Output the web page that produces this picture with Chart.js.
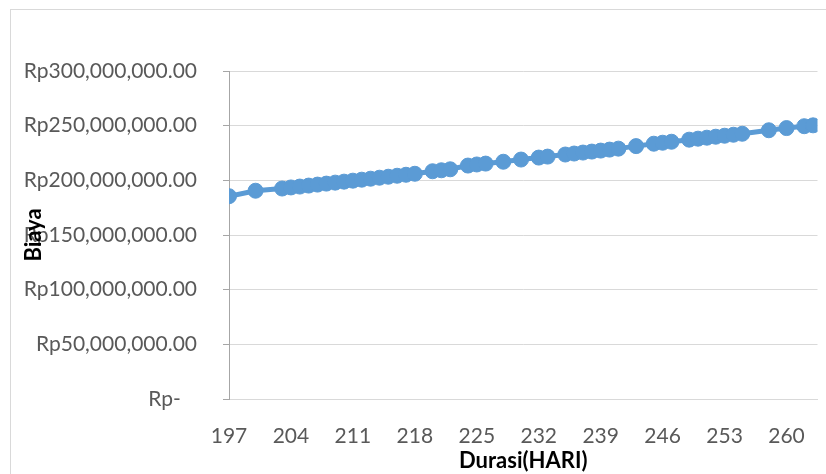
<!DOCTYPE html>
<html>
<head>
<meta charset="utf-8">
<script src="https://cdn.jsdelivr.net/npm/chart.js@4.4.1/dist/chart.umd.min.js"></script>
<style>
  html, body { margin: 0; padding: 0; background: #fff; }
  #wrap { width: 826px; height: 474px; position: relative; }
</style>
</head>
<body>
<div id="wrap"><canvas id="c" width="826" height="474"></canvas></div>
<script>
// ---- data ----
const durasiHari = [197, 200, 203, 204, 205, 206, 207, 208, 209, 210, 211, 212, 213, 214, 215, 216, 217, 218,
  220, 221, 222, 224, 225, 226, 228, 230, 232, 233, 235, 236, 237, 238, 239, 240, 241, 243, 245, 246, 247,
  249, 250, 251, 252, 253, 254, 255, 258, 260, 262, 263];
const biayaJuta = [185.5, 190.5, 192.5, 193.5, 194.3, 195.2, 196.1, 197.0, 197.9, 198.8, 199.7, 200.6, 201.5, 202.4, 203.3, 204.2, 205.1, 206.0,
  208.3, 209.2, 210.1, 213.5, 214.5, 215.3, 217.0, 219.0, 220.8, 221.7, 223.6, 224.5, 225.4, 226.3, 227.2, 228.1, 229.0, 231.3, 233.5, 234.4, 235.3,
  237.2, 238.1, 239.0, 239.9, 240.8, 241.7, 242.6, 245.8, 247.8, 249.5, 250.3];
const xTickValues = [197, 204, 211, 218, 225, 232, 239, 246, 253, 260];
const yTickValues = [0, 50000000, 100000000, 150000000, 200000000, 250000000, 300000000];
const xTitle = 'Durasi(HARI)';
const yTitle = 'Biaya';

const points = durasiHari.map((d, i) => ({ x: d, y: biayaJuta[i] * 1000000 }));

const FONT = 'Lato, "Open Sans", sans-serif';

const frame = {
  id: 'frame',
  beforeDraw(chart) {
    const ctx = chart.ctx;
    ctx.save();
    ctx.fillStyle = '#ffffff';
    ctx.fillRect(0, 0, chart.width, chart.height);
    ctx.strokeStyle = '#d9d9d9';
    ctx.lineWidth = 1;
    ctx.strokeRect(10.5, 9.5, 2000, 2000);
    ctx.restore();
  },
  afterDraw(chart) {
    const ctx = chart.ctx;
    ctx.save();
    ctx.translate(34, 235);
    ctx.rotate(-Math.PI / 2);
    ctx.font = 'bold 22px ' + FONT;
    ctx.fillStyle = '#000000';
    ctx.textAlign = 'center';
    ctx.textBaseline = 'middle';
    ctx.fillText(yTitle, 0, 0);
    ctx.restore();
  }
};

new Chart(document.getElementById('c'), {
  type: 'line',
  data: {
    datasets: [{
      data: points,
      borderColor: '#5b9bd5',
      backgroundColor: '#5b9bd5',
      borderWidth: 5,
      pointRadius: 7.5,
      pointBorderWidth: 1,
      pointBorderColor: '#5b9bd5',
      pointBackgroundColor: '#5b9bd5',
      tension: 0
    }]
  },
  options: {
    responsive: false,
    animation: false,
    events: [],
    layout: { padding: { top: 71, right: 0, bottom: 0, left: 0 } },
    plugins: { legend: { display: false }, tooltip: { enabled: false }, title: { display: false } },
    scales: {
      x: {
        type: 'linear',
        min: 197,
        max: 263.5,
        afterBuildTicks(scale) { scale.ticks = xTickValues.map(v => ({ value: v })); },
        afterFit(scale) { scale.height = 75; },
        grid: { display: false },
        border: { display: true, color: '#d9d9d9', width: 1 },
        ticks: {
          color: '#595959',
          font: { family: FONT, size: 21 },
          padding: 17,
          maxRotation: 0,
          autoSkip: false,
          callback: v => String(v)
        },
        title: {
          display: true,
          text: xTitle,
          color: '#000000',
          font: { family: FONT, size: 22, weight: 'bold' },
          padding: { top: 0, bottom: 0 }
        }
      },
      y: {
        min: 0,
        max: 300000000,
        afterBuildTicks(scale) { scale.ticks = yTickValues.map(v => ({ value: v })); },
        afterFit(scale) { scale.width = 229; },
        grid: { color: '#d9d9d9', tickColor: '#a6a6a6', tickLength: 6, lineWidth: 1 },
        border: { display: true, color: '#a6a6a6', width: 1 },
        ticks: {
          color: '#595959',
          font: { family: FONT, size: 21 },
          padding: 26,
          callback: v => v === 0 ? 'Rp-   ' : 'Rp' + Number(v).toLocaleString('en-US', { minimumFractionDigits: 2, maximumFractionDigits: 2 })
        }
      }
    }
  },
  plugins: [frame]
});
</script>
</body>
</html>
